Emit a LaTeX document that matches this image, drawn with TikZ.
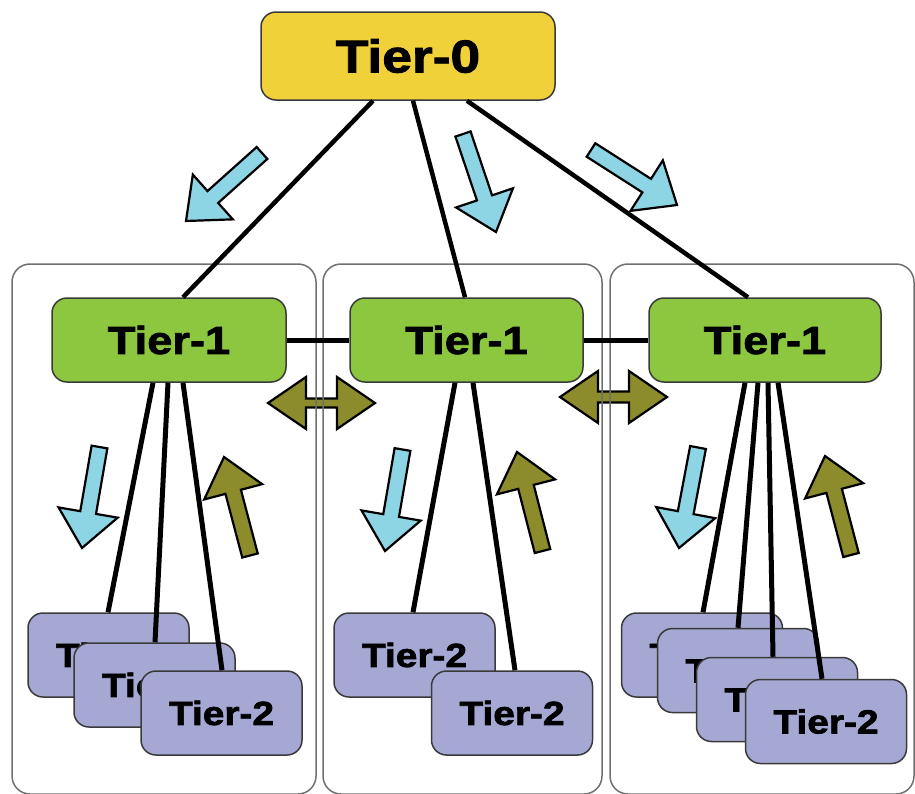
\documentclass[tikz,border=0pt]{standalone}
\usepackage{fontspec}
\newfontfamily\tierfont[FakeStretch=1.16,FakeBold=2]{Liberation Sans}
\usetikzlibrary{calc}
\definecolor{tyellow}{HTML}{F1D13A}
\definecolor{tgreen}{HTML}{8DC63F}
\definecolor{tlav}{HTML}{A6A8D4}
\definecolor{tcyan}{HTML}{8DD4E4}
\definecolor{tolive}{HTML}{8C8C2D}
\definecolor{tbord}{HTML}{3A3A3A}
\definecolor{tcont}{HTML}{707070}
\newcommand{\blockarr}[3]{%
  \coordinate (bh) at ($(#3)!36pt!(#2)$);
  \draw[#1] ($(#2)!8pt!90:(#3)$) -- ($(bh)!8pt!90:(#3)$) -- ($(bh)!30pt!90:(#3)$) -- (#3)
    -- ($(bh)!30pt!-90:(#3)$) -- ($(bh)!8pt!-90:(#3)$) -- ($(#2)!8pt!-90:(#3)$) -- cycle;}
\newcommand{\dblarr}[5]{%
  \coordinate (da) at ($(#2)!38pt!(#3)$);
  \coordinate (db) at ($(#3)!38pt!(#2)$);
  \draw[#1] (#2) -- ($(da)!#5!90:(#3)$) -- ($(da)!#4!90:(#3)$) -- ($(db)!#4!-90:(#2)$)
    -- ($(db)!#5!-90:(#2)$) -- (#3) -- ($(db)!#5!90:(#2)$) -- ($(db)!#4!90:(#2)$)
    -- ($(da)!#4!-90:(#3)$) -- ($(da)!#5!-90:(#3)$) -- cycle;}
\tikzset{
  tbox/.style={rounded corners=15pt, draw=tbord, line width=1.5pt, inner sep=0pt, minimum height=84pt},
  t0/.style={tbox, fill=tyellow, minimum width=294pt, minimum height=88pt, font=\tierfont\bfseries\fontsize{46}{46}\selectfont},
  t1/.style={tbox, fill=tgreen, minimum width=233pt, font=\tierfont\bfseries\fontsize{39}{39}\selectfont},
  t2/.style={tbox, fill=tlav, minimum width=161pt, font=\tierfont\bfseries\fontsize{33.5}{33.5}\selectfont},
  cont/.style={draw=tcont, line width=1.5pt, rounded corners=18pt},
  conn/.style={draw=black, line width=5pt},
  cyanarr/.style={fill=tcyan, draw=black, line width=2.2pt, line join=miter},
  olivearr/.style={fill=tolive, draw=black, line width=2.2pt, line join=miter},
}
\begin{document}
\begin{tikzpicture}[x=1pt,y=-1pt]
\useasboundingbox (0,0) rectangle (915,793);
% double arrows between tier-1 groups
\dblarr{olivearr}{268,403}{375,403}{4.5pt}{26pt}
\dblarr{olivearr}{560,397}{667,397}{5.5pt}{26pt}
% containers
\draw[cont] (12,264) rectangle (316,794);
\draw[cont] (323,264) rectangle (602,794);
\draw[cont] (610,264) rectangle (914,794);
% flow arrows
\blockarr{cyanarr}{262,153}{186,221}
\blockarr{cyanarr}{463,134}{496,232}
\blockarr{cyanarr}{591,150}{677,205}
\blockarr{cyanarr}{99.5,447}{82,548}
\blockarr{cyanarr}{402.5,449.5}{385,551}
\blockarr{cyanarr}{698,447.5}{679,548}
\blockarr{olivearr}{250,555.5}{224,457}
\blockarr{olivearr}{542.5,551}{517,452}
\blockarr{olivearr}{851,555}{825,456}
% nodes
\node[t0] (t0) at (408,56) {Tier-0};
\node[t1, minimum width=234pt] (t1a) at (169,340) {Tier-1};
\node[t1] (t1b) at (466.5,340) {Tier-1};
\node[t1, minimum width=232pt] (t1c) at (765,340) {Tier-1};
\node[t2] (a1) at (108.5,655) {Tier-2};
\node[t2] (a2) at (154.5,685) {Tier-2};
\node[t2] (a3) at (221.5,713) {Tier-2};
\node[t2] (b1) at (414.5,655) {Tier-2};
\node[t2] (b2) at (512,713) {Tier-2};
\node[t2] (c1) at (702,655) {Tier-2};
\node[t2] (c2) at (738,670.5) {Tier-2};
\node[t2] (c3) at (777,699.5) {Tier-2};
\node[t2] (c4) at (826,721.5) {Tier-2};
% connectors
\draw[conn, line width=4.5pt] ([xshift=-35pt]t0.south) -- ([xshift=14pt]t1a.north);
\draw[conn, line width=4.5pt] ([xshift=5pt]t0.south) -- ([xshift=-1.5pt]t1b.north);
\draw[conn, line width=4.5pt] ([xshift=59pt]t0.south) -- ([xshift=-17pt]t1c.north);
\draw[conn] (t1a) -- (t1b);
\draw[conn] (t1b) -- (t1c);
\draw[conn] ([xshift=-16pt]t1a.south) -- ([xshift=-0.5pt]a1.north);
\draw[conn] ([xshift=-1pt]t1a.south) -- ([xshift=0.5pt]a2.north);
\draw[conn] ([xshift=14pt]t1a.south) -- ([xshift=0.5pt]a3.north);
\draw[conn] ([xshift=-11.5pt]t1b.south) -- ([xshift=-1.5pt]b1.north);
\draw[conn] ([xshift=6.5pt]t1b.south) -- ([xshift=3pt]b2.north);
\draw[conn] ([xshift=-20pt]t1c.south) -- ([xshift=1pt]c1.north);
\draw[conn] ([xshift=-7pt]t1c.south) -- (c2.north);
\draw[conn] ([xshift=3pt]t1c.south) -- ([xshift=-4pt]c3.north);
\draw[conn] ([xshift=13pt]t1c.south) -- ([xshift=-4pt]c4.north);
\end{tikzpicture}
\end{document}
